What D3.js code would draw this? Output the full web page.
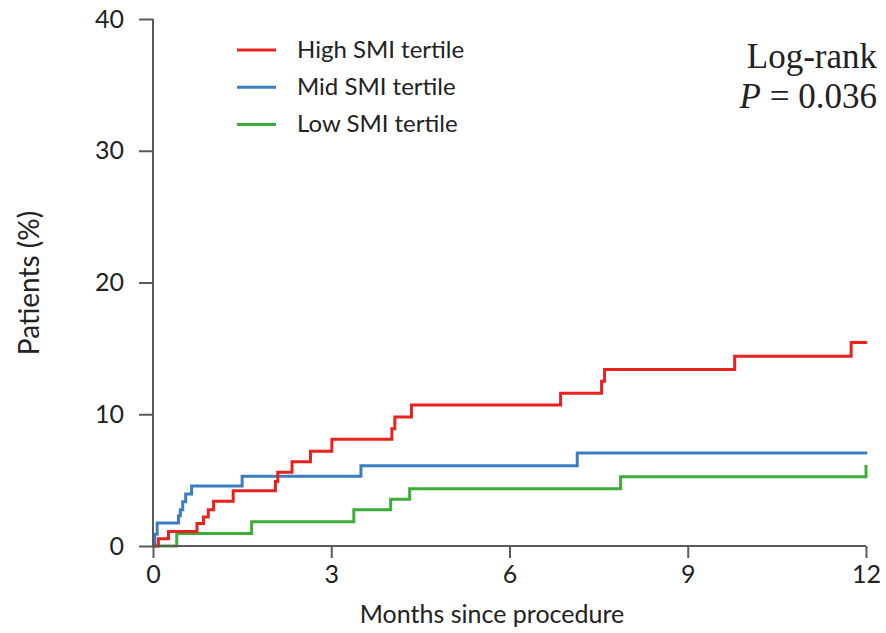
<!DOCTYPE html>
<html>
<head>
<meta charset="utf-8">
<script src="https://cdn.jsdelivr.net/npm/d3@7"></script>
<style>
  html, body { margin: 0; padding: 0; background: #fff; }
  svg { display: block; }
</style>
</head>
<body>
<svg id="chart" width="886" height="633"></svg>
<script>
// Cumulative incidence (Kaplan–Meier style step curves) by SMI tertile
const highMonths = [0, 0.09, 0.26, 0.74, 0.85, 0.93, 1.02, 1.35, 2.06, 2.1, 2.34, 2.65, 3.01, 4.02, 4.07, 4.35, 6.86, 7.55, 7.6, 9.79, 11.75, 12.02];
const highPct    = [0, 0.55, 1.1, 1.7, 2.2, 2.75, 3.4, 4.2, 4.9, 5.6, 6.4, 7.2, 8.1, 8.9, 9.8, 10.7, 11.6, 12.5, 13.4, 14.4, 15.45, 15.45];

const midMonths  = [0, 0.03, 0.07, 0.43, 0.46, 0.5, 0.55, 0.65, 1.5, 3.5, 7.14, 12.02];
const midPct     = [0, 0.9, 1.75, 2.3, 2.75, 3.35, 3.95, 4.55, 5.3, 6.1, 7.05, 7.05];

const lowMonths  = [0, 0.4, 1.66, 3.38, 4.0, 4.32, 7.87, 12.0, 12.0];
const lowPct     = [0, 0.95, 1.85, 2.75, 3.55, 4.35, 5.25, 5.25, 6.15];

const seriesNames  = ["High SMI tertile", "Mid SMI tertile", "Low SMI tertile"];
const seriesColors = ["#e8221e", "#3b7dc1", "#3cad37"];

const xTicks = [0, 3, 6, 9, 12];
const yTicks = [0, 10, 20, 30, 40];

const series = [
  { name: seriesNames[0], color: seriesColors[0], pts: highMonths.map((m, i) => [m, highPct[i]]) },
  { name: seriesNames[1], color: seriesColors[1], pts: midMonths.map((m, i) => [m, midPct[i]]) },
  { name: seriesNames[2], color: seriesColors[2], pts: lowMonths.map((m, i) => [m, lowPct[i]]) }
];

const svg = d3.select("#chart");
const x = d3.scaleLinear().domain([0, 12]).range([153, 866]);
const y = d3.scaleLinear().domain([0, 40]).range([546, 19]);

const font = "Lato, 'Open Sans', sans-serif";
const axisColor = "#5a5a5a";

// Step curves — low first so high sits on top
const line = d3.line().x(d => x(d[0])).y(d => y(d[1])).curve(d3.curveStepAfter);
[series[2], series[1], series[0]].forEach(s => {
  svg.append("path")
    .attr("d", line(s.pts))
    .attr("fill", "none")
    .attr("stroke", s.color)
    .attr("stroke-width", 3)
    .attr("stroke-linejoin", "miter");
});

// X axis
const xAxis = svg.append("g")
  .attr("transform", `translate(0,${y(0)})`)
  .call(d3.axisBottom(x).tickValues(xTicks).tickSize(12).tickPadding(7).tickFormat(d3.format("d")));
// Y axis
const yAxis = svg.append("g")
  .attr("transform", `translate(${x(0)},0)`)
  .call(d3.axisLeft(y).tickValues(yTicks).tickSize(14).tickPadding(15).tickFormat(d3.format("d")));

[xAxis, yAxis].forEach(g => {
  g.select(".domain").attr("stroke", axisColor).attr("stroke-width", 2);
  g.selectAll(".tick line").attr("stroke", axisColor).attr("stroke-width", 2);
  g.selectAll(".tick text")
    .attr("fill", "#222")
    .style("font-family", font)
    .style("font-size", "25px");
});
// Plain axis lines without outer tick caps
xAxis.select(".domain").attr("d", `M${x(0)},0H${x(12)}`);
yAxis.select(".domain").attr("d", `M0,${y(0)}V${y(40)}`);

// Axis titles
svg.append("text")
  .attr("x", 492).attr("y", 623)
  .attr("text-anchor", "middle")
  .attr("fill", "#222")
  .style("font-family", font).style("font-size", "25px")
  .text("Months since procedure");

svg.append("text")
  .attr("transform", "translate(39,283) rotate(-90)")
  .attr("text-anchor", "middle")
  .attr("fill", "#222")
  .style("font-family", font).style("font-size", "28px")
  .text("Patients (%)");

// Legend
const legend = svg.append("g");
series.forEach((s, i) => {
  const ly = 50 + i * 37.2;
  legend.append("line")
    .attr("x1", 237).attr("x2", 276).attr("y1", ly).attr("y2", ly)
    .attr("stroke", s.color).attr("stroke-width", 3);
  legend.append("text")
    .attr("x", 297).attr("y", ly + 7.5)
    .attr("fill", "#222")
    .style("font-family", font).style("font-size", "24px")
    .text(s.name);
});

// Log-rank annotation
const ann = svg.append("text")
  .attr("text-anchor", "end")
  .attr("fill", "#222")
  .style("font-family", "'Liberation Serif', 'DejaVu Serif', serif")
  .style("font-size", "35px");
ann.append("tspan").attr("x", 877).attr("y", 68).text("Log-rank");
const l2 = ann.append("tspan").attr("x", 877).attr("y", 108);
l2.append("tspan").style("font-style", "italic").text("P");
l2.append("tspan").text(" = 0.036");
</script>
</body>
</html>
